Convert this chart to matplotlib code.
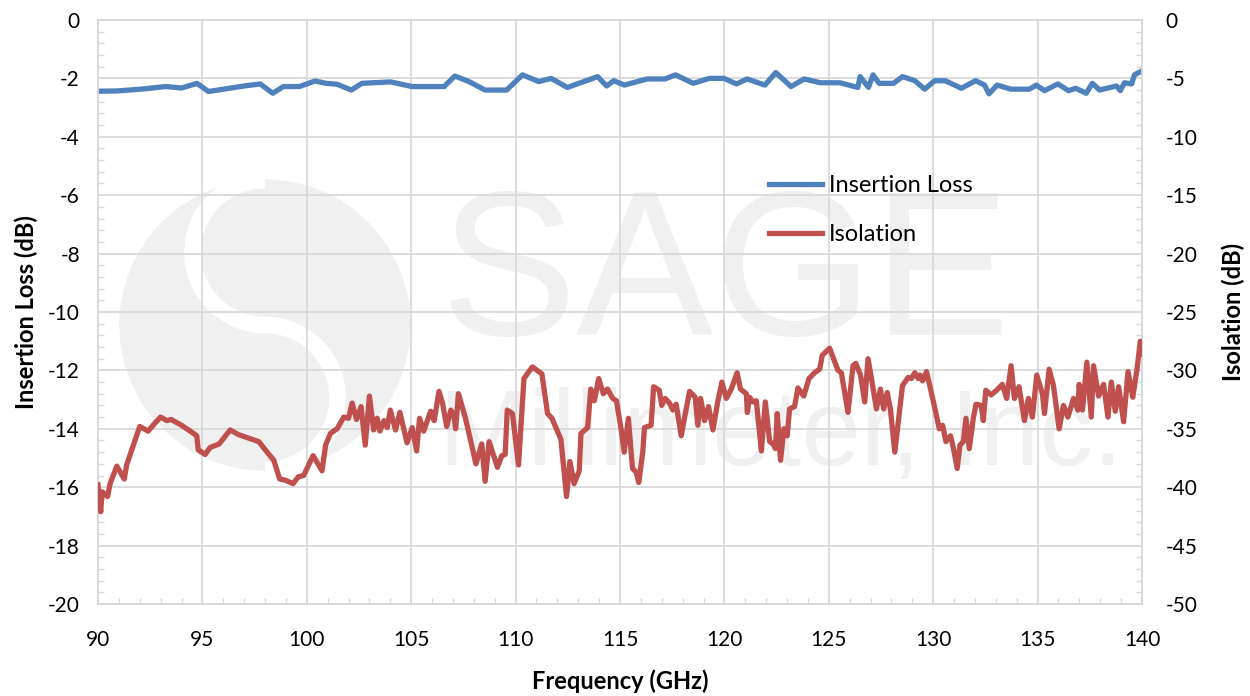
import matplotlib
matplotlib.use("Agg")
import matplotlib.pyplot as plt
from matplotlib.ticker import MultipleLocator
from matplotlib.patches import Circle, Arc

plt.rcParams['font.family'] = ['Lato', 'DejaVu Sans']
plt.rcParams['axes.unicode_minus'] = False

# insertion loss, left axis (dB)
freq_il = [90.0, 90.93, 92.2, 93.24, 94.0, 94.74, 95.29, 97.0, 97.77, 98.37, 98.88, 99.65,
           100.39, 100.93, 101.45, 102.13, 102.64, 104.01, 105.04, 106.58, 107.09, 107.77,
           108.54, 109.57, 110.33, 111.11, 111.7, 112.48, 113.93, 114.36, 114.7, 115.21,
           116.3, 117.15, 117.66, 118.51, 119.28, 119.98, 120.58, 121.09, 121.94, 122.46,
           123.19, 123.82, 124.6, 125.53, 126.39, 126.5, 126.9, 127.12, 127.41, 128.1,
           128.53, 129.12, 129.59, 130.07, 130.58, 131.35, 132.03, 132.46, 132.67, 133.06,
           133.74, 134.6, 134.94, 135.33, 135.97, 136.48, 136.83, 137.33, 137.62, 137.97,
           138.78, 138.96, 139.16, 139.5, 139.64, 140.0]
il = [-2.44, -2.43, -2.36, -2.28, -2.33, -2.17, -2.45, -2.26, -2.19, -2.51, -2.28, -2.28,
      -2.09, -2.17, -2.2, -2.4, -2.17, -2.12, -2.28, -2.28, -1.92, -2.11,
      -2.4, -2.4, -1.88, -2.11, -2.0, -2.31, -1.94, -2.26, -2.08, -2.23,
      -2.02, -2.02, -1.88, -2.17, -2.0, -2.0, -2.19, -2.02, -2.23, -1.8,
      -2.28, -2.02, -2.15, -2.15, -2.31, -1.94, -2.31, -1.88, -2.17, -2.17,
      -1.94, -2.08, -2.37, -2.08, -2.08, -2.34, -2.08, -2.23, -2.53, -2.23,
      -2.37, -2.37, -2.23, -2.42, -2.19, -2.42, -2.34, -2.51, -2.17, -2.4,
      -2.26, -2.42, -2.15, -2.19, -1.88, -1.74]

# isolation, right axis (dB)
freq_iso = [90.0, 90.13, 90.2, 90.46, 90.58, 90.9, 91.26, 91.37, 92.0, 92.4, 92.78, 93.0,
            93.3, 93.5, 94.0, 94.5, 94.73, 94.8, 95.13, 95.37, 95.8, 96.33, 96.73, 97.37,
            97.7, 98.1, 98.42, 98.7, 98.97, 99.34, 99.6, 99.85, 100.3, 100.73, 100.9, 101.13,
            101.45, 101.77, 102.0, 102.17, 102.38, 102.6, 102.8, 103.0, 103.2, 103.37, 103.5,
            103.7, 103.85, 104.0, 104.25, 104.46, 104.8, 105.05, 105.26, 105.4, 105.6, 105.93,
            106.1, 106.33, 106.5, 106.7, 106.9, 107.05, 107.13, 107.26, 107.6, 108.1, 108.38,
            108.54, 108.73, 109.13, 109.34, 109.5, 109.6, 109.85, 110.14, 110.4, 110.8, 111.26,
            111.53, 111.74, 112.17, 112.44, 112.6, 112.8, 113.05, 113.13, 113.45, 113.6, 113.77,
            113.98, 114.2, 114.4, 114.65, 114.83, 115.05, 115.2, 115.4, 115.6, 115.77, 115.9,
            116.09, 116.17, 116.49, 116.61, 116.88, 117.0, 117.16, 117.37, 117.53, 117.69,
            117.93, 118.09, 118.33, 118.6, 118.73, 118.86, 119.05, 119.24, 119.45, 119.69,
            119.88, 120.09, 120.33, 120.61, 120.77, 121.05, 121.1, 121.2, 121.37, 121.53,
            121.77, 121.96, 122.17, 122.33, 122.44, 122.53, 122.69, 122.85, 123.01, 123.12,
            123.36, 123.52, 123.8, 124.05, 124.32, 124.56, 124.69, 125.04, 125.23, 125.44,
            125.6, 125.92, 126.16, 126.29, 126.52, 126.72, 126.88, 127.09, 127.28, 127.47,
            127.63, 127.8, 127.95, 128.16, 128.53, 128.8, 128.96, 129.12, 129.28, 129.36,
            129.49, 129.68, 130.0, 130.29, 130.45, 130.61, 130.83, 130.96, 131.15, 131.28,
            131.44, 131.57, 131.73, 131.92, 132.05, 132.3, 132.4, 132.52, 132.77, 133.04,
            133.31, 133.52, 133.73, 133.89, 134.11, 134.37, 134.56, 134.75, 134.96, 135.23,
            135.33, 135.55, 135.76, 136.03, 136.24, 136.45, 136.72, 136.93, 136.99, 137.15,
            137.36, 137.57, 137.68, 137.92, 138.16, 138.37, 138.53, 138.72, 138.88, 139.12,
            139.33, 139.56, 139.76, 139.92, 140.0]
iso = [-39.8, -42.1, -40.4, -40.8, -39.7, -38.2, -39.3, -38.1, -34.8, -35.2, -34.4, -34.0,
       -34.3, -34.2, -34.7, -35.3, -35.6, -36.8, -37.2, -36.6, -36.3, -35.1, -35.5, -35.9,
       -36.1, -37.0, -37.7, -39.3, -39.4, -39.7, -39.1, -39.0, -37.3, -38.6, -36.4, -35.4,
       -35.0, -34.0, -34.1, -32.8, -34.2, -33.1, -36.4, -32.2, -35.1, -34.1, -35.2,
       -34.3, -34.9, -33.4, -35.1, -33.6, -36.2, -34.9, -36.9, -34.1, -35.2, -33.5,
       -34.3, -31.8, -32.8, -34.8, -33.4, -33.9, -35.0, -32.0, -34.1, -38.0, -36.3,
       -39.5, -36.1, -38.3, -37.3, -37.2, -33.4, -33.7, -38.1, -30.7, -29.7, -30.3,
       -33.7, -34.1, -35.9, -40.8, -37.8, -39.7, -38.6, -35.4, -34.9, -31.6, -32.6,
       -30.7, -32.0, -31.6, -32.4, -32.6, -35.0, -37.0, -34.1, -38.4, -38.7, -39.6,
       -37.0, -34.9, -34.7, -31.4, -31.7, -33.0, -32.4, -32.8, -33.4, -32.9,
       -35.6, -34.1, -31.8, -32.3, -34.7, -32.4, -34.3, -33.1, -35.1, -32.6,
       -31.0, -32.4, -31.6, -30.2, -31.6, -32.0, -33.6, -32.3, -32.7, -32.6,
       -36.9, -32.7, -36.1, -36.3, -36.7, -33.7, -37.7, -35.0, -35.6, -33.3,
       -33.1, -31.5, -32.2, -30.7, -30.2, -29.9, -28.7, -28.1, -29.0, -30.0,
       -30.2, -33.6, -29.6, -29.4, -30.4, -32.7, -29.0, -31.2, -33.3, -31.6,
       -33.3, -31.9, -33.3, -37.0, -31.3, -30.6, -30.7, -30.2, -30.7, -30.4,
       -30.9, -30.1, -32.6, -35.0, -34.7, -36.1, -35.6, -36.6, -38.4, -36.4,
       -36.1, -34.1, -36.7, -34.1, -32.9, -33.0, -34.3, -31.7, -32.1, -31.7,
       -31.2, -32.4, -29.6, -32.4, -31.4, -34.3, -32.4, -34.0, -30.4, -32.0,
       -33.7, -29.9, -31.3, -35.0, -33.0, -34.0, -32.4, -33.4, -31.2, -33.4,
       -29.3, -34.0, -29.6, -32.2, -31.2, -34.0, -31.0, -33.5, -31.4, -34.4,
       -30.1, -32.3, -29.9, -27.5, -28.6]

blue = "#4F81BD"
red = "#C0504D"
grid_c = "#D9D9D9"
wm_c = "#F0F0F0"

fig = plt.figure(figsize=(12.5, 6.96), dpi=100)
ax = fig.add_axes([0.0784, 0.1322, 0.8352, 0.8391])

# watermark (logo + company name), drawn under the grid
ax.add_patch(Circle((2.65, 3.71), 1.45, transform=fig.dpi_scale_trans, color=wm_c,
                    zorder=0.1, clip_on=False))
ax.add_patch(Arc((2.65, 4.435), 1.45, 1.45, theta1=90, theta2=270,
                 transform=fig.dpi_scale_trans, color="white", lw=12, zorder=0.2, clip_on=False))
ax.add_patch(Arc((2.65, 2.985), 1.45, 1.45, theta1=-90, theta2=90,
                 transform=fig.dpi_scale_trans, color="white", lw=12, zorder=0.2, clip_on=False))
ax.text(0.352, 0.518, "SAGE", transform=fig.transFigure, fontsize=148, color=wm_c,
        family="Liberation Sans", ha="left", va="baseline", zorder=0.1)
ax.text(0.351, 0.332, "Millimeter, Inc.", transform=fig.transFigure, fontsize=77,
        color=wm_c, family="Liberation Sans", ha="left", va="baseline", zorder=0.1)

ax2 = ax.twinx()

l1, = ax.plot(freq_il, il, color=blue, lw=3.8, label="Insertion Loss", zorder=3)
l2, = ax2.plot(freq_iso, iso, color=red, lw=3.8, label="Isolation", zorder=3)

ax.set_xlim(90, 140)
ax.set_ylim(-20, 0)
ax2.set_ylim(-50, 0)

ax.xaxis.set_major_locator(MultipleLocator(5))
ax.xaxis.set_minor_locator(MultipleLocator(1))
ax.yaxis.set_major_locator(MultipleLocator(2))
ax.yaxis.set_minor_locator(MultipleLocator(0.4))
ax2.yaxis.set_major_locator(MultipleLocator(5))
ax2.yaxis.set_minor_locator(MultipleLocator(1))

ax.grid(True, which="major", color=grid_c, lw=1.3, zorder=0.5)
ax.set_axisbelow(True)

for a in (ax, ax2):
    for s in a.spines.values():
        s.set_color(grid_c)
        s.set_linewidth(1.3)
    a.tick_params(which="major", length=0, labelsize=15)
    a.tick_params(which="minor", length=4, color=grid_c, direction="in", width=1)
ax.tick_params(axis="y", pad=13)
ax.tick_params(axis="x", pad=19)
ax2.tick_params(axis="y", pad=17)

ax.set_xlabel("Frequency (GHz)", fontsize=17, fontweight="bold", labelpad=14)
ax.set_ylabel("Insertion Loss (dB)", fontsize=17, fontweight="bold", labelpad=7)
ax2.set_ylabel("Isolation (dB)", fontsize=17, fontweight="bold", labelpad=17)

ax2.legend(handles=[l1, l2], loc="upper left", bbox_to_anchor=(0.622, 0.771),
           frameon=False, fontsize=17, handlelength=2.25, handletextpad=0.3,
           labelspacing=1.18)

fig.savefig("out.png", dpi=100)
